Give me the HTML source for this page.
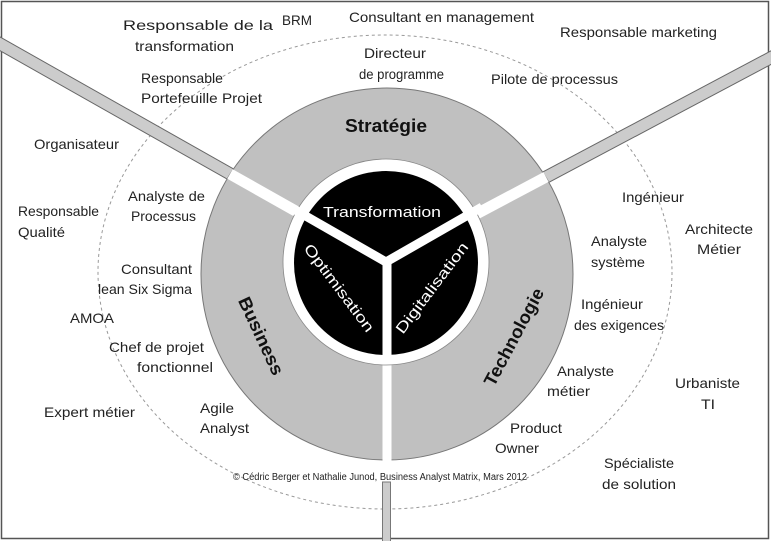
<!DOCTYPE html>
<html><head><meta charset="utf-8"><style>
html,body{margin:0;padding:0;background:#fff;}
svg{display:block;}
text{font-family:"Liberation Sans",sans-serif;font-size:14px;fill:#222;}
.w{fill:#fff;font-size:15px;}
.b{font-weight:bold;font-size:18px;fill:#111;}
</style></head><body>
<svg width="771" height="541" viewBox="0 0 771 541" xmlns="http://www.w3.org/2000/svg">
<rect x="1.5" y="1.5" width="767" height="537" fill="#fff" stroke="#555" stroke-width="1.5"/>
<ellipse cx="385" cy="272" rx="287" ry="237" fill="none" stroke="#999" stroke-width="1" stroke-dasharray="3,3"/>
<g stroke-linecap="butt">
<line x1="386" y1="262" x2="-5" y2="41" stroke="#666" stroke-width="13"/>
<line x1="386" y1="262" x2="-5" y2="41" stroke="#ccc" stroke-width="11"/>
<line x1="386" y1="262" x2="776" y2="55" stroke="#666" stroke-width="13"/>
<line x1="386" y1="262" x2="776" y2="55" stroke="#ccc" stroke-width="11"/>
<rect x="382.5" y="482" width="8" height="60" fill="#ccc" stroke="#777" stroke-width="1"/>
</g>
<circle cx="387" cy="274" r="186" fill="#c0c0c0" stroke="#777" stroke-width="1"/>
<line x1="386" y1="262" x2="230" y2="174" stroke="#fff" stroke-width="11"/>
<line x1="386" y1="262" x2="546" y2="177" stroke="#fff" stroke-width="11"/>
<line x1="387" y1="262" x2="387" y2="461" stroke="#fff" stroke-width="9"/>
<circle cx="386" cy="262" r="103" fill="#fff" stroke="#888" stroke-width="0.8"/>
<circle cx="386" cy="263" r="92" fill="#000"/>
<line x1="386" y1="262" x2="290" y2="207" stroke="#fff" stroke-width="9"/>
<line x1="386" y1="262" x2="482" y2="207" stroke="#fff" stroke-width="9"/>
<line x1="387" y1="262" x2="387" y2="360" stroke="#fff" stroke-width="9"/>
<text class="b" x="345" y="132" textLength="82" lengthAdjust="spacingAndGlyphs">Stratégie</text>
<text class="w" x="323" y="217" textLength="118" lengthAdjust="spacingAndGlyphs">Transformation</text>
<text class="w" transform="translate(339,288) rotate(53)" x="-53" y="5" textLength="106" lengthAdjust="spacingAndGlyphs">Optimisation</text>
<text class="w" transform="translate(432,288) rotate(-53)" x="-55" y="5" textLength="110" lengthAdjust="spacingAndGlyphs">Digitalisation</text>
<text class="b" transform="translate(261,336) rotate(65)" x="-42" y="6" textLength="84" lengthAdjust="spacingAndGlyphs">Business</text>
<text class="b" transform="translate(514,337) rotate(-62)" x="-54" y="6" textLength="108" lengthAdjust="spacingAndGlyphs">Technologie</text>
<text x="123" y="30" textLength="150" lengthAdjust="spacingAndGlyphs">Responsable de la</text>
<text x="135" y="51" textLength="99" lengthAdjust="spacingAndGlyphs">transformation</text>
<text x="282" y="25" textLength="30" lengthAdjust="spacingAndGlyphs">BRM</text>
<text x="349" y="22" textLength="185" lengthAdjust="spacingAndGlyphs">Consultant en management</text>
<text x="560" y="37" textLength="157" lengthAdjust="spacingAndGlyphs">Responsable marketing</text>
<text x="364" y="58" textLength="62" lengthAdjust="spacingAndGlyphs">Directeur</text>
<text x="359" y="79" textLength="85" lengthAdjust="spacingAndGlyphs">de programme</text>
<text x="141" y="83" textLength="82" lengthAdjust="spacingAndGlyphs">Responsable</text>
<text x="141" y="103" textLength="121" lengthAdjust="spacingAndGlyphs">Portefeuille Projet</text>
<text x="491" y="84" textLength="127" lengthAdjust="spacingAndGlyphs">Pilote de processus</text>
<text x="34" y="149" textLength="85" lengthAdjust="spacingAndGlyphs">Organisateur</text>
<text x="622" y="202" textLength="62" lengthAdjust="spacingAndGlyphs">Ingénieur</text>
<text x="18" y="216" textLength="81" lengthAdjust="spacingAndGlyphs">Responsable</text>
<text x="18" y="237" textLength="47" lengthAdjust="spacingAndGlyphs">Qualité</text>
<text x="128" y="201" textLength="77" lengthAdjust="spacingAndGlyphs">Analyste de</text>
<text x="131" y="221" textLength="65" lengthAdjust="spacingAndGlyphs">Processus</text>
<text x="685" y="234" textLength="68" lengthAdjust="spacingAndGlyphs">Architecte</text>
<text x="697" y="254" textLength="44" lengthAdjust="spacingAndGlyphs">Métier</text>
<text x="591" y="246" textLength="56" lengthAdjust="spacingAndGlyphs">Analyste</text>
<text x="591" y="267" textLength="54" lengthAdjust="spacingAndGlyphs">système</text>
<text x="121" y="274" textLength="71" lengthAdjust="spacingAndGlyphs">Consultant</text>
<text x="98" y="294" textLength="94" lengthAdjust="spacingAndGlyphs">lean Six Sigma</text>
<text x="581" y="309" textLength="62" lengthAdjust="spacingAndGlyphs">Ingénieur</text>
<text x="574" y="330" textLength="90" lengthAdjust="spacingAndGlyphs">des exigences</text>
<text x="70" y="323" textLength="44" lengthAdjust="spacingAndGlyphs">AMOA</text>
<text x="109" y="352" textLength="95" lengthAdjust="spacingAndGlyphs">Chef de projet</text>
<text x="137" y="372" textLength="76" lengthAdjust="spacingAndGlyphs">fonctionnel</text>
<text x="557" y="376" textLength="57" lengthAdjust="spacingAndGlyphs">Analyste</text>
<text x="547" y="396" textLength="43" lengthAdjust="spacingAndGlyphs">métier</text>
<text x="675" y="388" textLength="65" lengthAdjust="spacingAndGlyphs">Urbaniste</text>
<text x="701" y="409" textLength="14" lengthAdjust="spacingAndGlyphs">TI</text>
<text x="44" y="417" textLength="91" lengthAdjust="spacingAndGlyphs">Expert métier</text>
<text x="200" y="413" textLength="34" lengthAdjust="spacingAndGlyphs">Agile</text>
<text x="200" y="433" textLength="49" lengthAdjust="spacingAndGlyphs">Analyst</text>
<text x="510" y="433" textLength="52" lengthAdjust="spacingAndGlyphs">Product</text>
<text x="495" y="453" textLength="44" lengthAdjust="spacingAndGlyphs">Owner</text>
<text x="604" y="468" textLength="70" lengthAdjust="spacingAndGlyphs">Spécialiste</text>
<text x="602" y="489" textLength="74" lengthAdjust="spacingAndGlyphs">de solution</text>
<text x="233" y="480" style="font-size:10px" textLength="294" lengthAdjust="spacingAndGlyphs">© Cédric Berger et Nathalie Junod, Business Analyst Matrix, Mars 2012</text>
</svg>
</body></html>
